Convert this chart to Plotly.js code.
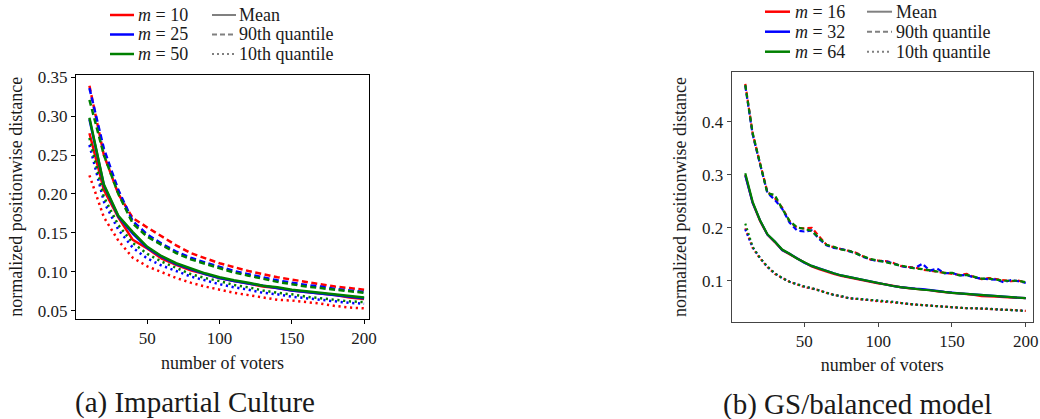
<!DOCTYPE html>
<html>
<head>
<meta charset="utf-8">
<script src="https://cdn.plot.ly/plotly-3.0.1.min.js"></script>
<style>
html,body{margin:0;padding:0;background:#fff;}
#chart{width:1040px;height:419px;}
#chart text, #chart tspan { font-family: 'Liberation Serif' !important; }
</style>
</head>
<body>
<div id="chart"></div>
<script>
// ---------- data: (a) Impartial Culture ----------
const leftVoters = [10,20,30,40,50,60,70,80,90,100,110,120,130,140,150,160,170,180,190,200];
const leftLabels = ['<i>m</i> = 10','<i>m</i> = 25','<i>m</i> = 50'];
const icMean10 = [0.278,0.205,0.170,0.141,0.130,0.117,0.109,0.102,0.097,0.092,0.088,0.085,0.081,0.079,0.076,0.074,0.072,0.070,0.067,0.065];
const icP90_10 = [0.339,0.250,0.200,0.169,0.157,0.145,0.134,0.124,0.117,0.111,0.106,0.101,0.097,0.093,0.090,0.087,0.084,0.081,0.079,0.077];
const icP10_10 = [0.224,0.170,0.140,0.118,0.107,0.099,0.092,0.086,0.081,0.077,0.073,0.070,0.067,0.064,0.063,0.061,0.059,0.056,0.054,0.053];
const icMean25 = [0.296,0.211,0.171,0.149,0.131,0.119,0.110,0.103,0.097,0.092,0.088,0.085,0.082,0.079,0.076,0.074,0.072,0.070,0.068,0.066];
const icP90_25 = [0.336,0.258,0.205,0.165,0.148,0.136,0.126,0.118,0.112,0.106,0.101,0.097,0.093,0.089,0.086,0.083,0.081,0.078,0.076,0.074];
const icP10_25 = [0.263,0.190,0.154,0.131,0.117,0.108,0.101,0.094,0.089,0.084,0.080,0.077,0.073,0.071,0.068,0.066,0.064,0.062,0.060,0.059];
const icMean50 = [0.298,0.212,0.172,0.151,0.132,0.120,0.111,0.104,0.098,0.093,0.089,0.086,0.082,0.080,0.077,0.075,0.073,0.071,0.069,0.067];
const icP90_50 = [0.321,0.250,0.200,0.162,0.145,0.134,0.124,0.116,0.110,0.104,0.099,0.095,0.091,0.087,0.084,0.081,0.079,0.077,0.075,0.073];
const icP10_50 = [0.272,0.196,0.160,0.137,0.123,0.113,0.105,0.097,0.092,0.088,0.083,0.080,0.076,0.073,0.071,0.068,0.066,0.064,0.062,0.061];
const leftYTicks = [0.05,0.10,0.15,0.20,0.25,0.30,0.35];

// ---------- data: (b) GS/balanced model ----------
const rightVoters = [10,15,20,25,30,35,40,45,50,55,60,65,70,75,80,85,90,95,100,105,110,115,120,125,130,135,140,145,150,155,160,165,170,175,180,185,190,195,200];
const rightLabels = ['<i>m</i> = 16','<i>m</i> = 32','<i>m</i> = 64'];
const gsMean16 = [0.300,0.247,0.213,0.187,0.173,0.158,0.150,0.142,0.134,0.127,0.122,0.117,0.113,0.109,0.106,0.103,0.100,0.097,0.095,0.093,0.090,0.088,0.086,0.085,0.083,0.082,0.080,0.078,0.077,0.076,0.075,0.073,0.071,0.071,0.070,0.069,0.068,0.068,0.067];
const gsP90_16 = [0.472,0.378,0.322,0.268,0.256,0.238,0.212,0.200,0.199,0.200,0.184,0.168,0.163,0.160,0.157,0.153,0.146,0.140,0.138,0.137,0.134,0.128,0.126,0.125,0.121,0.119,0.118,0.116,0.114,0.111,0.113,0.107,0.103,0.105,0.103,0.101,0.099,0.100,0.097];
const gsP10_16 = [0.199,0.162,0.142,0.126,0.113,0.105,0.098,0.093,0.088,0.085,0.082,0.077,0.073,0.070,0.067,0.066,0.064,0.063,0.061,0.060,0.060,0.058,0.056,0.055,0.054,0.053,0.052,0.050,0.050,0.049,0.048,0.048,0.047,0.047,0.046,0.045,0.045,0.044,0.043];
const gsMean32 = [0.299,0.247,0.214,0.187,0.174,0.158,0.151,0.142,0.134,0.128,0.123,0.118,0.114,0.110,0.107,0.104,0.101,0.098,0.095,0.093,0.090,0.088,0.086,0.085,0.084,0.083,0.081,0.079,0.077,0.076,0.075,0.074,0.073,0.072,0.070,0.069,0.068,0.068,0.067];
const gsP90_32 = [0.468,0.376,0.320,0.266,0.253,0.236,0.210,0.195,0.193,0.195,0.179,0.167,0.162,0.160,0.156,0.152,0.145,0.140,0.137,0.137,0.133,0.128,0.125,0.124,0.132,0.119,0.123,0.114,0.115,0.110,0.111,0.106,0.104,0.103,0.102,0.097,0.101,0.099,0.096];
const gsP10_32 = [0.197,0.163,0.143,0.126,0.114,0.105,0.098,0.093,0.089,0.086,0.082,0.077,0.073,0.071,0.067,0.066,0.065,0.063,0.062,0.061,0.060,0.058,0.056,0.055,0.054,0.053,0.052,0.050,0.050,0.049,0.048,0.048,0.048,0.047,0.046,0.045,0.045,0.044,0.043];
const gsMean64 = [0.303,0.249,0.214,0.188,0.174,0.159,0.151,0.142,0.135,0.128,0.123,0.118,0.114,0.110,0.107,0.104,0.101,0.098,0.095,0.093,0.090,0.088,0.086,0.085,0.083,0.082,0.080,0.079,0.077,0.076,0.075,0.074,0.073,0.071,0.070,0.069,0.069,0.068,0.067];
const gsP90_64 = [0.470,0.379,0.322,0.265,0.262,0.236,0.213,0.201,0.198,0.194,0.181,0.168,0.164,0.159,0.157,0.151,0.146,0.141,0.138,0.136,0.132,0.129,0.126,0.123,0.122,0.120,0.117,0.115,0.115,0.110,0.111,0.107,0.104,0.104,0.102,0.100,0.100,0.100,0.097];
const gsP10_64 = [0.208,0.164,0.143,0.127,0.114,0.105,0.098,0.093,0.089,0.086,0.082,0.077,0.073,0.071,0.067,0.066,0.065,0.063,0.062,0.061,0.060,0.058,0.056,0.055,0.054,0.053,0.052,0.050,0.050,0.049,0.048,0.048,0.048,0.047,0.046,0.045,0.045,0.044,0.043];
const rightYTicks = [0.1,0.2,0.3,0.4];

const xTicks = [50,100,150,200];
const styleLabels = ['Mean','90th quantile','10th quantile'];
const captions = ['(a) Impartial Culture','(b) GS/balanced model'];

// ---------- styling ----------
const W = 1040, H = 419;
const FONT = 'Liberation Serif';
const TXT = '#1a1a1a';
const seriesColors = ['#ff0000','#0000ff','#008000'];
const GRAY = '#808080';
const px = x => x / W;
const py = y => 1 - y / H;

const dashL = {mean:'solid', p90:'6px,3.5px', p10:'2.2px,3.6px'};
const dashR = {mean:'solid', p90:'5px,3px', p10:'2px,3px'};

const traces = [];
function addSet(xs, sets, xa, ya, lw, dashes) {
  sets.forEach((s, i) => {
    [['mean', s[0]], ['p90', s[1]], ['p10', s[2]]].forEach(([k, ys]) => {
      traces.push({
        type:'scatter', mode:'lines', x: xs, y: ys, xaxis: xa, yaxis: ya,
        line:{color: seriesColors[i], width: lw, dash: dashes[k]},
        showlegend:false, hoverinfo:'skip'
      });
    });
  });
}
addSet(leftVoters, [[icMean10, icP90_10, icP10_10],[icMean25, icP90_25, icP10_25],[icMean50, icP90_50, icP10_50]], 'x', 'y', 2.5, dashL);
addSet(rightVoters, [[gsMean16, gsP90_16, gsP10_16],[gsMean32, gsP90_32, gsP10_32],[gsMean64, gsP90_64, gsP10_64]], 'x2', 'y2', 2.2, dashR);

// ---------- legends (two-column, frameless, like matplotlib) ----------
const shapes = [], annotations = [];
function legendBlock(labels, colX, textX, rowsY, keyW) {
  labels.forEach((lab, i) => {
    shapes.push({type:'line', xref:'paper', yref:'paper',
      x0: px(colX), x1: px(colX + keyW), y0: py(rowsY[i]), y1: py(rowsY[i]),
      line:{color: seriesColors[i], width: 2.5}});
    annotations.push({xref:'paper', yref:'paper', x: px(textX), y: py(rowsY[i]),
      xanchor:'left', yanchor:'middle', showarrow:false, text: lab,
      font:{family: FONT, size: 18, color: TXT}});
  });
  const keys = ['solid', '5px,3px', '2px,3px'];
  styleLabels.forEach((lab, i) => {
    shapes.push({type:'line', xref:'paper', yref:'paper',
      x0: px(colX + 102), x1: px(colX + 102 + keyW), y0: py(rowsY[i]), y1: py(rowsY[i]),
      line:{color: GRAY, width: 2, dash: keys[i]}});
    annotations.push({xref:'paper', yref:'paper', x: px(textX + 101), y: py(rowsY[i]),
      xanchor:'left', yanchor:'middle', showarrow:false, text: lab,
      font:{family: FONT, size: 18, color: TXT}});
  });
}
legendBlock(leftLabels, 110, 136, [15, 34.5, 54], 24);
legendBlock(rightLabels, 765, 793, [11.7, 31.7, 51.7], 25);

annotations.push({xref:'paper', yref:'paper', x: px(194.5), y: py(402), xanchor:'center', yanchor:'middle',
  showarrow:false, text: captions[0], font:{family: FONT, size: 29, color: TXT}});
annotations.push({xref:'paper', yref:'paper', x: px(857), y: py(404.5), xanchor:'center', yanchor:'middle',
  showarrow:false, text: captions[1], font:{family: FONT, size: 29, color: TXT}});

function axisBase(lineColor) {
  return {showgrid:false, zeroline:false, showline:true, mirror:true, linecolor: lineColor, linewidth:1,
    ticks:'outside', ticklen:4, tickwidth:1, tickcolor: lineColor,
    tickfont:{family: FONT, size: 17, color: TXT}};
}
const axTitleFont = {family: FONT, size: 18, color: TXT};

const layout = {
  width: W, height: H, autosize:false,
  margin:{l:0, r:0, t:0, b:0, pad:0},
  paper_bgcolor:'#ffffff', plot_bgcolor:'#ffffff',
  showlegend:false,
  font:{family: FONT, size: 17, color: TXT},
  xaxis: Object.assign(axisBase('#000'), {domain:[px(76), px(369)], range:[0.7, 203.4], tickvals: xTicks,
    title:{text:'number of voters', font: axTitleFont, standoff: 8}, anchor:'y'}),
  yaxis: Object.assign(axisBase('#000'), {domain:[py(319), py(74.7)], range:[0.0393, 0.3533], tickvals: leftYTicks,
    tickformat:'.2f', title:{text:'normalized positionwise distance', font: axTitleFont, standoff: 10}, anchor:'x'}),
  xaxis2: Object.assign(axisBase('#444'), {domain:[px(731.7), px(1032.7)], range:[0.8, 204.7], tickvals: xTicks,
    title:{text:'number of voters', font: axTitleFont, standoff: 8}, anchor:'y2'}),
  yaxis2: Object.assign(axisBase('#444'), {domain:[py(321.7), py(72.3)], range:[0.0226, 0.4938], tickvals: rightYTicks,
    tickformat:'.1f', title:{text:'normalized positionwise distance', font: axTitleFont, standoff: 10}, anchor:'x2'}),
  shapes: shapes,
  annotations: annotations
};

Plotly.newPlot('chart', traces, layout, {staticPlot:true, displayModeBar:false});
</script>
</body>
</html>
